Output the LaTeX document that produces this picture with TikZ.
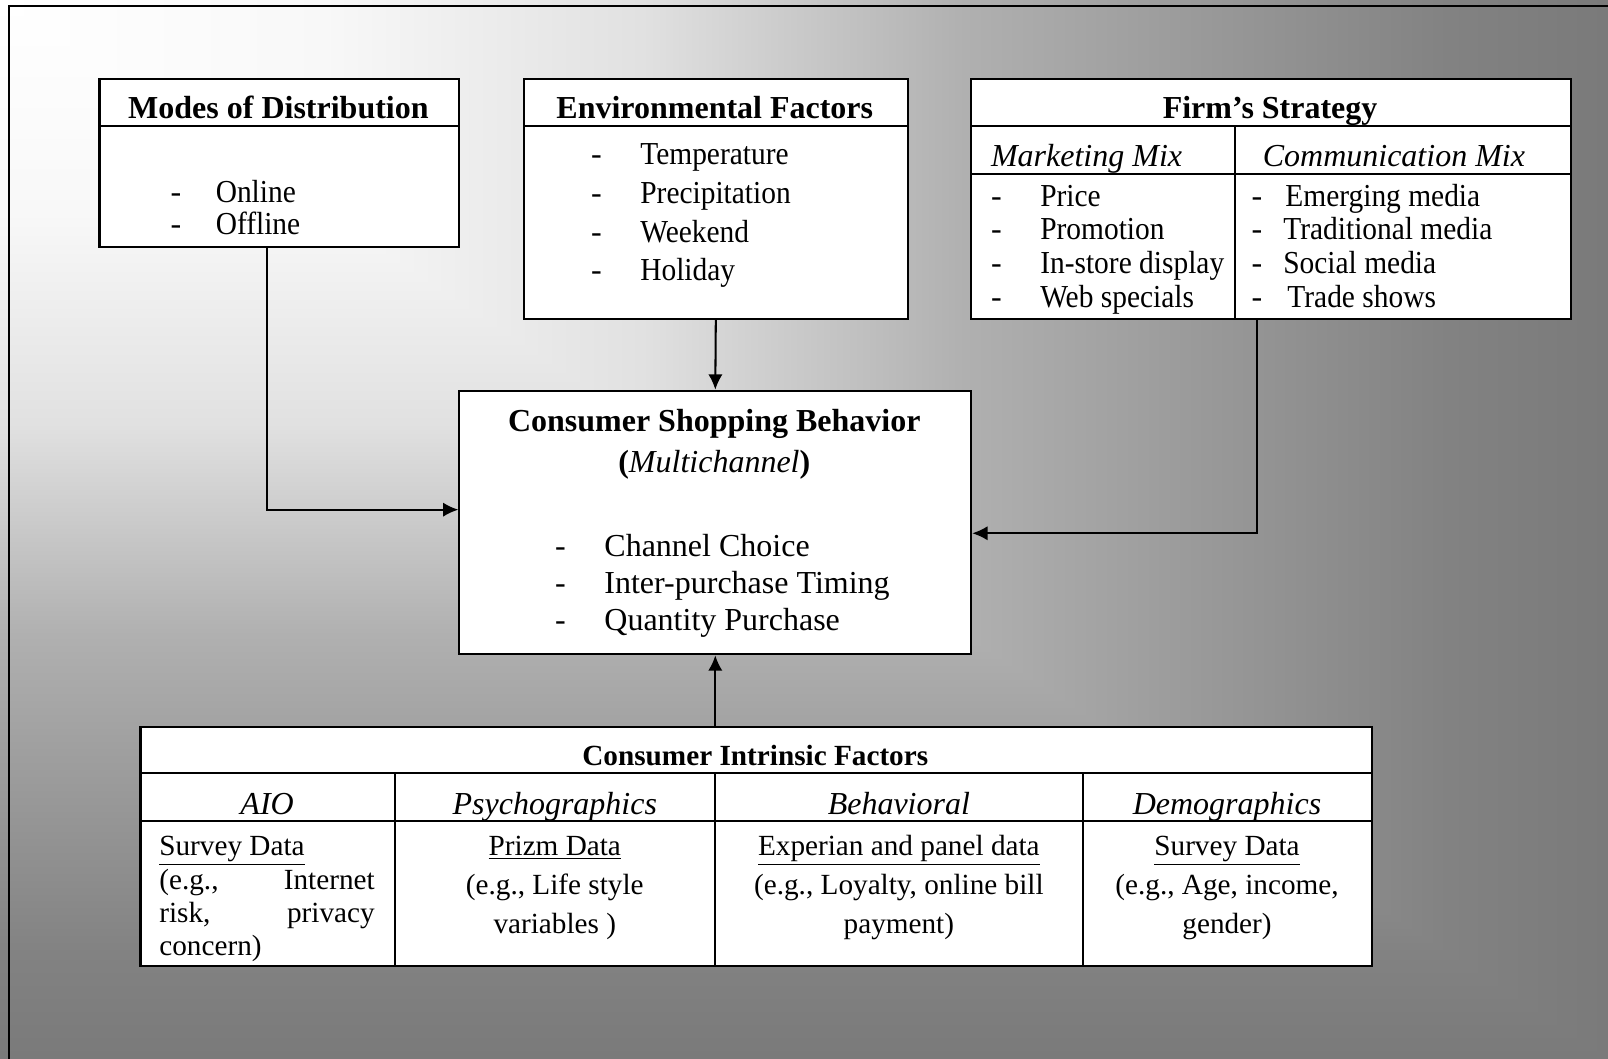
\documentclass[tikz,border=0pt]{standalone}
\usepackage{fontspec}
\usepackage{graphicx}
\setmainfont{Liberation Serif}
\usetikzlibrary{arrows.meta}
\definecolor{cA}{gray}{1}
\definecolor{cB}{gray}{0.973}
\definecolor{cC}{gray}{0.882}
\definecolor{cD}{gray}{0.69}
\definecolor{cE}{gray}{0.63}
\definecolor{cF}{gray}{0.51}
\definecolor{cG}{gray}{0.478}
\pgfdeclarehorizontalshading{bgh}{100bp}{color(0bp)=(cA); color(25bp)=(cA); color(35bp)=(cB); color(45bp)=(cC); color(55bp)=(cD); color(60bp)=(cE); color(70bp)=(cF); color(75bp)=(cG); color(100bp)=(cG)}
\pgfdeclareverticalshading{bgv}{100bp}{color(0bp)=(cG); color(25bp)=(cG); color(30bp)=(cF); color(40bp)=(cE); color(45bp)=(cD); color(55bp)=(cC); color(65bp)=(cB); color(75bp)=(cA); color(100bp)=(cA)}
\newcommand\bigtxt{\fontsize{15.6pt}{18pt}\selectfont}
\newcommand\smtxt{\fontsize{14.25pt}{17pt}\selectfont}
\newcommand\cond[1]{\scalebox{0.92}[1]{#1}}
\tikzset{
  box/.style={draw, fill=white, line width=1pt, inner sep=0pt, anchor=north west},
  txt/.style={inner sep=0pt, font=\bigtxt},
  stxt/.style={inner sep=0pt, font=\smtxt},
  rule/.style={line width=1pt},
  conn/.style={line width=1pt, -{Latex[length=7.5pt,width=7pt]}}
}
\begin{document}
\begin{tikzpicture}[x=0.5pt,y=-0.5pt]
\useasboundingbox (0,0) rectangle (1568,1032);
% background
\shade[shading=bgv] (0,0) rectangle (1568,1032);
\shade[shading=bgh] (0,0) -- (1568,0) -- (1568,1032) -- cycle;
\draw[line width=1.2pt] (9,1060) -- (9,6) -- (1600,6);

% boxes
\node[box, minimum width=175.5pt, minimum height=82pt] (modes) at (96,76) {};
\node[box, minimum width=187pt, minimum height=117pt] (env) at (510,76) {};
\node[box, minimum width=292.5pt, minimum height=117pt] (firm) at (946,76) {};
\node[box, minimum width=249.5pt, minimum height=128.5pt] (cons) at (447,380) {};
\node[box, minimum width=600.5pt, minimum height=116.5pt] (intr) at (136,708) {};

% internal rules
\draw[rule] (96,123) -- (447,123);
\draw[rule] (510,123) -- (884,123);
\draw[rule] (946,123) -- (1531,123);
\draw[rule] (946,170) -- (1531,170);
\draw[rule] (1204,123) -- (1204,310);
\draw[rule] (136,754) -- (1337,754);
\draw[rule] (136,801) -- (1337,801);
\draw[rule] (385,754) -- (385,941);
\draw[rule] (697,754) -- (697,941);
\draw[rule] (1056,754) -- (1056,941);

% Modes of Distribution
\node[txt, anchor=base] (tmodes) at (271.5,116) {\bfseries Modes of Distribution};
\foreach \t/\y [count=\i] in {Online/197, Offline/229}{
  \node[txt, anchor=base west] (mod-d\i) at (166,\y) {-};
  \node[txt, anchor=base west] (mod-\i) at (210,\y) {\cond{\t}};
}

% Environmental Factors
\node[txt, anchor=base] (tenv) at (697,116) {\bfseries Environmental Factors};
\foreach \t/\y [count=\i] in {Temperature/160, Precipitation/198, Weekend/236, Holiday/274}{
  \node[txt, anchor=base west] (env-d\i) at (576,\y) {-};
  \node[txt, anchor=base west] (env-\i) at (624,\y) {\cond{\t}};
}

% Firm's Strategy
\node[txt, anchor=base] (tfirm) at (1238.5,116) {\bfseries Firm’s Strategy};
\node[txt, anchor=base west] (mmix) at (966,162) {\itshape Marketing Mix};
\node[txt, anchor=base west] (cmix) at (1231,162) {\itshape Communication Mix};
\foreach \t/\y [count=\i] in {Price/201, Promotion/234, In-store display/267, Web specials/300}{
  \node[txt, anchor=base west] (mm-d\i) at (966,\y) {-};
  \node[txt, anchor=base west] (mm-\i) at (1014,\y) {\cond{\t}};
}
\foreach \t/\x/\y [count=\i] in {Emerging media/1253/201, Traditional media/1251/234, Social media/1251/267, Trade shows/1255/300}{
  \node[txt, anchor=base west] (cm-d\i) at (1220,\y) {-};
  \node[txt, anchor=base west] (cm-\i) at (\x,\y) {\cond{\t}};
}

% Consumer Shopping Behavior
\node[txt, anchor=base] (tcons) at (696.5,421) {\bfseries Consumer Shopping Behavior};
\node[txt, anchor=base] (multi) at (696.5,461) {{\bfseries(}\textit{Multichannel}{\bfseries)}};
\foreach \t/\y [count=\i] in {Channel Choice/543, Inter-purchase Timing/579, Quantity Purchase/615}{
  \node[txt, anchor=base west] (cs-d\i) at (541,\y) {-};
  \node[txt, anchor=base west] (cs-\i) at (589,\y) {\t};
}

% Consumer Intrinsic Factors
\node[stxt, anchor=base] (tintr) at (736.5,746) {\bfseries Consumer Intrinsic Factors};
\node[txt, anchor=base] (h-aio) at (260.5,794) {\itshape AIO};
\node[txt, anchor=base] (h-psy) at (541,794) {\itshape Psychographics};
\node[txt, anchor=base] (h-beh) at (876.5,794) {\itshape Behavioral};
\node[txt, anchor=base] (h-dem) at (1196.5,794) {\itshape Demographics};

\node[stxt, anchor=base west] (aio-1) at (155,834) {\underline{Survey Data}};
\node[stxt, anchor=base west] (aio-2) at (155,867) {\hbox to 105pt{(e.g.,\hfill Internet}};
\node[stxt, anchor=base west] (aio-3) at (155,900) {\hbox to 105pt{risk,\hfill privacy}};
\node[stxt, anchor=base west] (aio-4) at (155,932) {concern)};

\node[stxt, anchor=base] (psy-1) at (541,834) {\underline{Prizm Data}};
\node[stxt, anchor=base] (psy-2) at (541,872) {(e.g., Life style};
\node[stxt, anchor=base] (psy-3) at (541,910) {variables )};

\node[stxt, anchor=base] (beh-1) at (876.5,834) {\underline{Experian and panel data}};
\node[stxt, anchor=base] (beh-2) at (876.5,872) {(e.g., Loyalty, online bill};
\node[stxt, anchor=base] (beh-3) at (876.5,910) {payment)};

\node[stxt, anchor=base] (dem-1) at (1196.5,834) {\underline{Survey Data}};
\node[stxt, anchor=base] (dem-2) at (1196.5,872) {(e.g., Age, income,};
\node[stxt, anchor=base] (dem-3) at (1196.5,910) {gender)};

% connectors
\coordinate (mbend) at (260,497);
\coordinate (fbend) at (1226,520);
\draw[conn] (modes.south -| mbend) -- (mbend) -- (cons.west |- mbend);
\draw[conn] (env.south) -- (cons.north);
\draw[conn] (firm.south -| fbend) -- (fbend) -- (cons.east |- fbend);
\draw[conn] (intr.north -| cons.south) -- (cons.south);
\end{tikzpicture}
\end{document}
